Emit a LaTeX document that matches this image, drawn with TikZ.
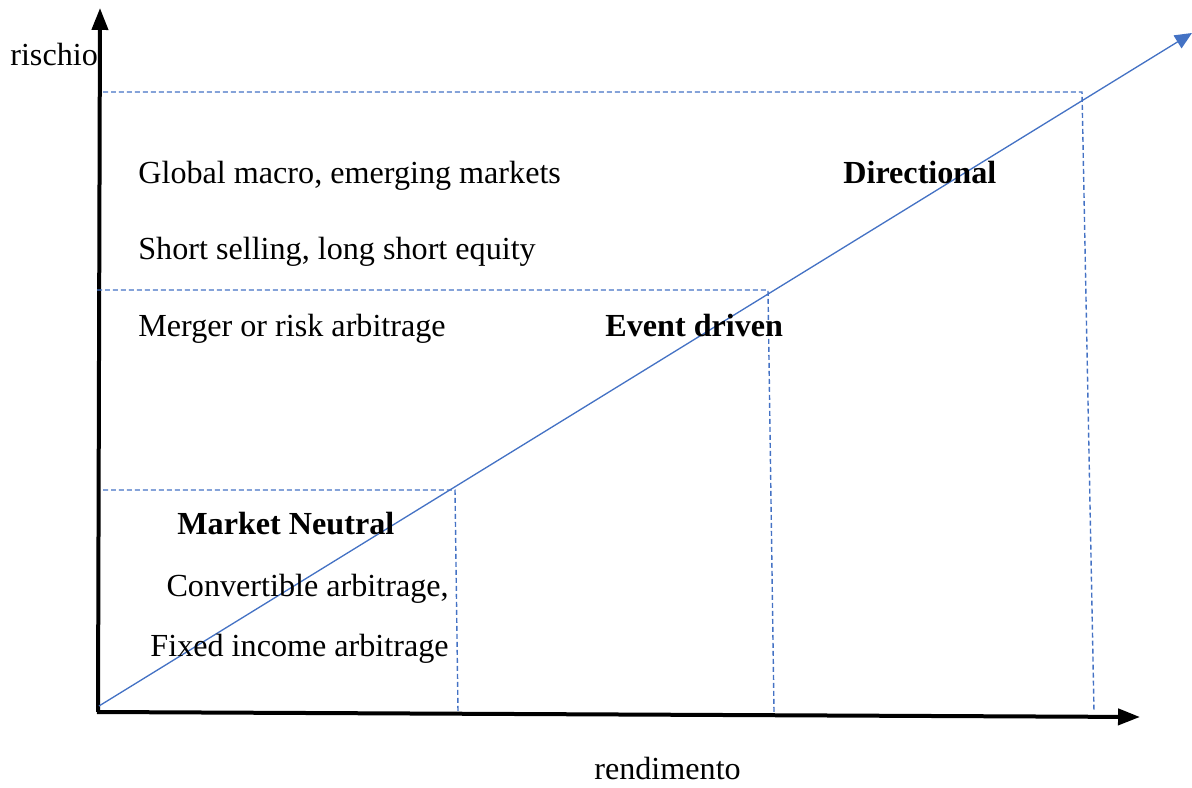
\documentclass[tikz,border=0pt]{standalone}
\usepackage{fontspec}
\setmainfont{Liberation Serif}
\usepackage{tikz}
\usetikzlibrary{ % tikz packages
    positioning,
    arrows.meta
}
\definecolor{lineblue}{HTML}{4472C4}
\tikzset{
    axis/.style={line width=0.08cm,-{Triangle[length=0.44cm,width=0.32cm]}},
    trend/.style={lineblue,line width=0.75pt,-{Triangle[length=0.34cm,width=0.3cm]}},
    band/.style={lineblue,line width=0.8pt,dash pattern=on 0.1cm off 0.06cm},
    label/.style={inner sep=0pt,font=\fontsize{18.3}{22}\selectfont},
    group/.style={label,font=\fontsize{18.3}{22}\selectfont\bfseries}
}

\begin{document}
\begin{tikzpicture}[x=0.02cm,y=0.02cm]
    \useasboundingbox (0,0) rectangle (1192,787);

    % axes
    \coordinate (O) at (98,75);
    \coordinate (ytop) at (100,779);
    \coordinate (xend) at (1140,70);
    \draw[axis] (O) -- (ytop);
    \draw[axis] (97,75) -- (xend);

    \node[label,anchor=base west] (rischio) at (10,721) {rischio};
    \node[label,anchor=base west] (rendimento) at (594,8) {rendimento};

    % risk bands
    \coordinate (dirA) at (103,695);
    \coordinate (dirB) at (1082,695);
    \coordinate (dirC) at (1094,75);
    \coordinate (evA) at (97,497);
    \coordinate (evB) at (768,497);
    \coordinate (evC) at (774,75);
    \coordinate (mnA) at (103,297);
    \coordinate (mnB) at (455,297);
    \coordinate (mnC) at (458,75);
    \draw[band] (dirA) -- (dirB) -- (dirC);
    \draw[band] (evA) -- (evB) -- (evC);
    \draw[band] (mnA) -- (mnB) -- (mnC);

    % trend line
    \coordinate (start) at (99,81);
    \coordinate (tip) at (1192,754);
    \draw[trend] (start) -- (tip);

    \node[label,anchor=base west] (global) at (138,603) {Global macro, emerging markets};
    \node[label,anchor=base west] (short) at (138,527) {Short selling, long short equity};
    \node[label,anchor=base west] (merger) at (138,450) {Merger or risk arbitrage};
    \node[group,anchor=base west] (directional) at (843,603) {Directional};
    \node[group,anchor=base west] (event) at (605,450) {Event driven};
    \node[group,anchor=base west] (neutral) at (177,252) {Market Neutral};
    \node[label,anchor=base east] (convertible) at (449,190) {Convertible arbitrage,};
    \node[label,anchor=base east] (fixed) at (449,130) {Fixed income arbitrage};
\end{tikzpicture}
\end{document}
